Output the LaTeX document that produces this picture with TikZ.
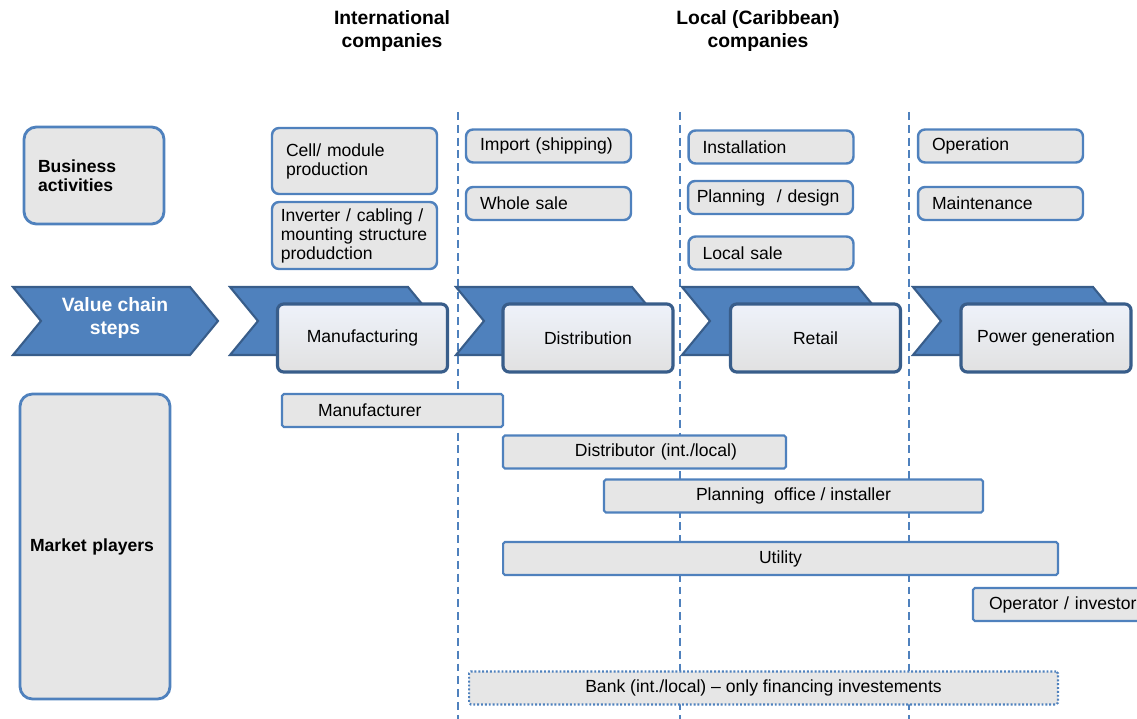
\documentclass[tikz,border=0pt]{standalone}
\usepackage{fontspec}
\setmainfont{Liberation Sans}
\definecolor{accblue}{RGB}{79,129,189}
\definecolor{chevline}{RGB}{56,93,138}
\definecolor{boxgray}{RGB}{230,230,230}
\definecolor{steptop}{RGB}{238,242,250}
\definecolor{stepbot}{RGB}{225,225,225}
\usetikzlibrary{positioning}
\hyphenpenalty=10000
\exhyphenpenalty=10000

\begin{document}
\begin{tikzpicture}[x=0.02cm, y=-0.02cm,
  every node/.style={font=\fontsize{10}{10.8}\selectfont},
  hdr/.style={font=\fontsize{11}{13.6}\selectfont\bfseries, align=center},
  sidebox/.style={draw=accblue, fill=boxgray, line width=1.6pt, rounded corners=7pt,
    inner sep=0pt, align=left, font=\fontsize{10}{10.8}\selectfont\bfseries},
  actbox/.style={draw=accblue, fill=boxgray, line width=1.4pt, rounded corners=4pt,
    inner sep=0pt, minimum width=3.3cm, minimum height=0.66cm, text width=2.74cm, align=left},
  chev/.style={fill=accblue, draw=chevline, line width=1.2pt, line join=miter},
  stepbox/.style={draw=chevline, top color=steptop, bottom color=stepbot, line width=1.8pt,
    rounded corners=3.5pt, minimum width=3.4cm, minimum height=1.36cm, inner sep=0pt},
  playerbar/.style={draw=accblue, fill=boxgray, line width=1.2pt, rounded corners=1pt,
    minimum height=0.66cm, inner sep=0pt},
  colsep/.style={accblue, line width=1.1pt, dash pattern=on 4.5pt off 2.8pt}]

  \clip (0,0) rectangle (1137,719);

  % column separators
  \foreach \xd in {458,680,909}
    \draw[colsep] (\xd,112) -- (\xd,719);

  \node[hdr] (hdrint) at (392,31) {International\\companies};
  \node[hdr] (hdrloc) at (758,31) {Local (Caribbean)\\companies};

  % value chain
  \foreach \xl/\xr in {13/190, 230/408, 456/632, 682/858, 913/1093}
    \draw[chev] (\xl,287) -- (\xr,287) -- ({\xr+28},321) -- (\xr,355)
      -- (\xl,355) -- ({\xl+28},321) -- cycle;
  \node[font=\fontsize{11}{13.6}\selectfont\bfseries, text=white, align=center] (vcs)
    at (115,318) {Value chain\\steps};

  \node[stepbox] (manuf) at (362.5,338) {Manufacturing};
  \node[stepbox] (distr) at (588,338) {Distribution};
  \node[stepbox] (retail) at (815.5,338) {Retail};
  \node[stepbox] (powgen) at (1046,338) {Power generation};

  \node[sidebox, minimum width=2.8cm, minimum height=1.94cm, text width=2.24cm] (busact)
    at (94,175.5) {Business\\activities};
  \node[sidebox, minimum width=3cm, minimum height=6.1cm, text width=2.6cm] (mktpl)
    at (95,546.5) {Market players};

  % business activities
  \node[actbox, minimum height=1.32cm] (cellmod) at (354.5,161) {Cell/ module\\production};
  \node[actbox, minimum height=1.34cm, text width=2.95cm] (inverter) at (354.5,235.5)
    {\makebox[2.95cm][s]{Inverter / cabling /}\\mounting structure\\produdction};
  \node[actbox] (import) at (548.5,146) {Import (shipping)};
  \node[actbox] (wholesale) at (548.5,203.5) {Whole sale};
  \node[actbox] (install) at (771,147) {Installation};
  \node[actbox, text width=2.95cm] (planning) at (770.5,197.5) {Planning~ / design};
  \node[actbox] (localsale) at (771,253) {Local sale};
  \node[actbox] (operation) at (1000.5,146) {Operation};
  \node[actbox] (maint) at (1000.5,203.5) {Maintenance};

  % market players
  \node[playerbar, minimum width=4.42cm, text width=2.98cm, align=left] (manufr)
    at (392.5,410.5) {Manufacturer};
  \node[playerbar, minimum width=5.66cm, text width=3.7cm, align=right] (distrib)
    at (644.5,452) {Distributor (int./local)};
  \node[playerbar, minimum width=7.58cm] (planoff) at (793.5,496) {Planning~ office / installer};
  \node[playerbar, minimum width=11.1cm] (utility) at (780.5,558.5) {Utility};
  \node[playerbar, minimum width=3.8cm, text width=3.16cm, align=left] (operinv)
    at (1068,604.5) {Operator / investor};
  \node[playerbar, dash pattern=on 1.1pt off 1.1pt, minimum width=11.78cm] (bank)
    at (763.5,688) {Bank (int./local) – only financing investements};
\end{tikzpicture}
\end{document}
